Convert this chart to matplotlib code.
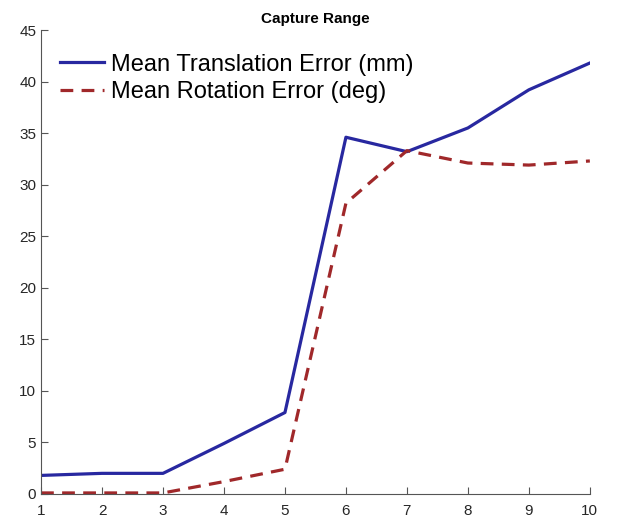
import matplotlib
matplotlib.use("Agg")
import matplotlib.pyplot as plt

plt.rcParams['font.family'] = ['Liberation Sans', 'DejaVu Sans']

x = [1, 2, 3, 4, 5, 6, 7, 8, 9, 10]
translation_err = [1.8, 2.0, 2.0, 4.9, 7.9, 34.6, 33.2, 35.5, 39.2, 41.8]
rotation_err = [0.1, 0.1, 0.1, 1.2, 2.4, 28.2, 33.3, 32.1, 31.9, 32.3]

fig = plt.figure(figsize=(6.17, 5.23), dpi=100)
ax = fig.add_axes([0.0665, 0.0555, 0.8895, 0.8871])

ax.plot(x, translation_err, color='#2828a0', lw=2.3, label='Mean Translation Error (mm)')
ax.plot(x, rotation_err, color='#a0282a', lw=2.3, ls=(0, (4, 2.6)), label='Mean Rotation Error (deg)')

ax.set_xlim(1, 10)
ax.set_ylim(0, 45)
ax.set_xticks(range(1, 11))
ax.set_yticks(range(0, 46, 5))
ax.set_title('Capture Range', fontsize=11, fontweight='bold', pad=5)

grey = '#555555'
for side in ['top', 'right']:
    ax.spines[side].set_visible(False)
for side in ['left', 'bottom']:
    ax.spines[side].set_color(grey)
    ax.spines[side].set_linewidth(0.8)
ax.tick_params(direction='in', length=5, colors=grey, labelcolor='#262626', labelsize=11, width=0.8)
ax.tick_params(axis='x', pad=7)

leg = ax.legend(loc='upper left', frameon=False, fontsize=17, handlelength=1.85,
                handletextpad=0.3, labelspacing=0.25, borderaxespad=0.3,
                bbox_to_anchor=(0.005, 0.985))

fig.savefig('out.png', dpi=100)
